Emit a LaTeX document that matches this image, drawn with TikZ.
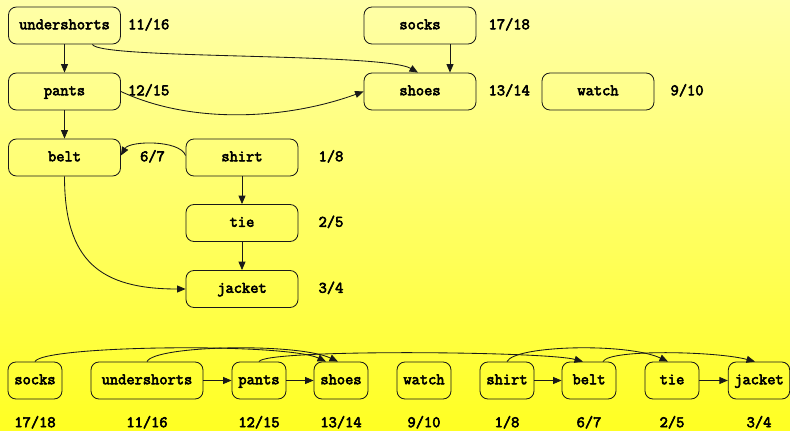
\documentclass[tikz,border=0pt]{standalone}
\usepackage{fontspec}
\usetikzlibrary{arrows.meta}
\newfontfamily\lblfont{Latin Modern Mono}[FakeBold=3.5]
\begin{document}
\begin{tikzpicture}[x=1pt,y=1pt,
  lbl/.style={font=\lblfont\fontsize{16}{16}\selectfont, text height=11pt, text depth=3.5pt},
  box/.style={lbl, draw=black!90, line width=0.85pt, rounded corners=8pt,
    minimum width=112pt, minimum height=37pt, inner sep=0pt},
  slim/.style={box, minimum width=54pt, inner xsep=6pt},
  num/.style={lbl, inner sep=0pt},
  arr/.style={draw=black!90, line width=0.85pt, -{Triangle[length=8.5pt,width=7pt]}},
  hi/.style={out=65, in=155, out distance=18pt, in distance=45pt},
  lo/.style={out=65, in=165, out distance=14pt, in distance=40pt}]

% background
\shade[top color={rgb,255:red,255;green,255;blue,168},
       bottom color={rgb,255:red,255;green,255;blue,34}]
  (0,0) rectangle (790,-431);
\useasboundingbox (0,0) rectangle (790,-431);

% dependency graph
\node[box] (u)  at (64.5,-25.5)  {undershorts};
\node[box] (so) at (420,-25.5)   {socks};
\node[box] (p)  at (64.5,-91.5)  {pants};
\node[box] (sh) at (420,-91.5)   {shoes};
\node[box] (w)  at (598,-91.5)   {watch};
\node[box] (b)  at (64.5,-157.5) {belt};
\node[box] (si) at (242,-157.5)  {shirt};
\node[box] (t)  at (242,-223)    {tie};
\node[box] (j)  at (242,-289)    {jacket};

% discovery / finishing times
\node[num, anchor=west] (nu)  at ([xshift=7pt]u.east)   {11/16};
\node[num, anchor=west] (nso) at ([xshift=12pt]so.east) {17/18};
\node[num, anchor=west] (np)  at ([xshift=7pt]p.east)   {12/15};
\node[num, anchor=west] (nsh) at ([xshift=12pt]sh.east) {13/14};
\node[num, anchor=west] (nw)  at ([xshift=16pt]w.east)  {9/10};
\node[num, anchor=west] (nb)  at ([xshift=19pt]b.east)  {6/7};
\node[num, anchor=west] (nsi) at ([xshift=20pt]si.east) {1/8};
\node[num, anchor=west] (nt)  at ([xshift=20pt]t.east)  {2/5};
\node[num, anchor=west] (nj)  at ([xshift=20pt]j.east)  {3/4};

\draw[arr] (u) -- (p);
\draw[arr] ([xshift=28pt]u.south) to[out=-70, in=150, out distance=16pt, in distance=40pt] ([xshift=-2pt]sh.north);
\draw[arr] ([xshift=30pt]so.south) -- ([xshift=30pt]sh.north);
\draw[arr] (p.east) to[out=-25, in=200, distance=80pt] (sh.west);
\draw[arr] (p) -- (b);
\draw[arr] ([yshift=2pt]si.west) to[out=110, in=60, distance=17pt] ([yshift=2pt]b.east);
\draw[arr] (si) -- (t);
\draw[arr] (t) -- (j);
\draw[arr] (b.south) to[out=-90, in=180, distance=85pt] (j.west);

% topologically sorted order
\node[slim] (bso) at (35,-380.5)  {socks};
\node[box]  (bu)  at (147,-380.5) {undershorts};
\node[slim] (bp)  at (259,-380.5) {pants};
\node[slim] (bsh) at (341,-380.5) {shoes};
\node[slim] (bw)  at (424,-380.5) {watch};
\node[slim] (bsi) at (507,-380.5) {shirt};
\node[slim] (bb)  at (589,-380.5) {belt};
\node[slim] (bt)  at (672,-380.5) {tie};
\node[slim] (bj)  at (759,-380.5) {jacket};

\foreach \n/\v in {bso/17\slash18, bu/11\slash16, bp/12\slash15, bsh/13\slash14,
                   bw/9\slash10, bsi/1\slash8, bb/6\slash7, bt/2\slash5, bj/3\slash4}
  \node[num] (l\n) at ([yshift=-24pt]\n.south) {\v};

\draw[arr] (bu) -- (bp);
\draw[arr] (bp) -- (bsh);
\draw[arr] (bsi) -- (bb);
\draw[arr] (bt) -- (bj);
\draw[arr] (bso.north) to[hi] ([xshift=-15pt]bsh.north);
\draw[arr] (bu.north) to[hi] ([xshift=-3pt]bsh.north);
\draw[arr] (bp.north) to[lo] ([xshift=-6pt]bb.north);
\draw[arr] (bsi.north) to[hi] ([xshift=-4pt]bt.north);
\draw[arr] ([xshift=14pt]bb.north) to[lo] ([xshift=-4pt]bj.north);
\end{tikzpicture}
\end{document}
